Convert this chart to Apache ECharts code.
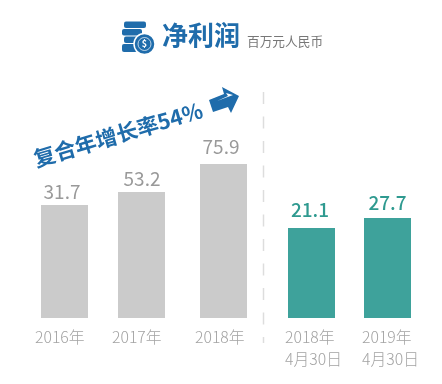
<!DOCTYPE html>
<html><head><meta charset="utf-8">
<style>html,body{margin:0;padding:0;background:#fff}#c{width:442px;height:384px}</style>
<script src="https://cdn.jsdelivr.net/npm/echarts@6/dist/echarts.min.js"></script>
</head><body><div id="c"></div>
<script>
// Data
const categories = ['2016年', '2017年', '2018年', '2018年\n4月30日', '2019年\n4月30日'];
const valueLabels = ['31.7', '53.2', '75.9', '21.1', '27.7'];
// The reference's bars are not to scale with their printed values: drawn levels
const barLevels = [113, 126, 154, 90, 100];

// Layout and style
const barCenters = [64.5, 141.5, 223.5, 311.5, 387.5];
const labelShift = [29.5, 29.5, 28.5, 26.5, 25.5];
const valueOffsetX = [-2.5, 0.5, -2.5, -1.5, 0];
const valueOffsetY = [-1, -1, -1, -1, 2];
const labelGap = [13, 13, 17, 18, 18];
const barColors = ['#cbcbcb', '#cbcbcb', '#cbcbcb', '#3ea29b', '#3ea29b'];
const labelColors = ['#999999', '#999999', '#999999', '#2f9a90', '#2f9a90'];
const BLUE = '#1f6cab';
const FONT = '"Noto Sans CJK SC","Noto Sans",sans-serif';
const BAR_W = 47, AXIS_Y = 318, MAX_LEVEL = 160;

const grid = [], xAxis = [], yAxis = [], series = [];
categories.forEach((cat, i) => {
  grid.push({ left: barCenters[i] - BAR_W / 2, width: BAR_W, top: AXIS_Y - MAX_LEVEL, height: MAX_LEVEL });
  xAxis.push({
    type: 'category', gridIndex: i, data: [cat],
    axisLine: { show: false }, axisTick: { show: false },
    axisLabel: {
      color: '#a3a3a3', fontFamily: FONT, fontSize: 15.8, fontWeight: 300, lineHeight: 22,
      align: 'left', margin: 8, interval: 0, padding: [0, 0, 0, -labelShift[i]]
    }
  });
  yAxis.push({ type: 'value', gridIndex: i, min: 0, max: MAX_LEVEL, show: false });
  series.push({
    type: 'bar', xAxisIndex: i, yAxisIndex: i, barWidth: BAR_W, silent: true, animation: false,
    data: [barLevels[i]],
    itemStyle: { color: barColors[i] },
    label: {
      show: true, position: 'top', distance: labelGap[i] - 10,
      offset: [valueOffsetX[i], valueOffsetY[i]], formatter: () => valueLabels[i],
      color: labelColors[i], fontFamily: FONT, fontSize: 19, fontWeight: i > 2 ? 500 : 400
    }
  });
});

const graphic = [
  // divider
  { type: 'line', shape: { x1: 263.5, y1: 92, x2: 263.5, y2: 343 },
    style: { stroke: '#dddddd', lineWidth: 1.5, lineDash: [12, 12.5] } },
  // coin icon
  ...[[124, 21.5, 22, 6.5], [122, 29, 20, 6.5], [124, 36.5, 15, 6.5], [122, 44, 15, 8]].map(r => ({
    type: 'rect', shape: { x: r[0], y: r[1], width: r[2], height: r[3], r: 2 }, style: { fill: BLUE } })),
  { type: 'circle', shape: { cx: 144.5, cy: 44, r: 10.5 }, style: { fill: BLUE, stroke: '#fff', lineWidth: 1.5 } },
  { type: 'circle', shape: { cx: 144.5, cy: 44, r: 6.5 }, style: { fill: 'none', stroke: '#fff', lineWidth: 0.7 } },
  { type: 'text', x: 144.5, y: 44, style: { text: '$', fill: '#fff', font: 'bold 9px ' + FONT, align: 'center', verticalAlign: 'middle' } },
  // title
  { type: 'text', x: 162, y: 35, style: { text: '净利润', fill: BLUE, font: 'bold 26px ' + FONT, verticalAlign: 'middle' } },
  { type: 'text', x: 247, y: 41, style: { text: '百万元人民币', fill: '#777777', font: '12.7px ' + FONT, verticalAlign: 'middle' } },
  // growth note
  { type: 'text', x: 118, y: 134.5, rotation: 16.5 * Math.PI / 180, originX: 0, originY: 0,
    style: { text: '复合年增长率54%', fill: BLUE, font: 'bold 21.5px ' + FONT, align: 'center', verticalAlign: 'middle' } },
  // arrow
  { type: 'polygon', shape: { points: [[209, 100], [224, 94], [222, 87], [239, 96], [231, 113], [228, 107], [213, 112]] }, style: { fill: BLUE } },
  { type: 'polygon', shape: { points: [[217, 101], [233, 95], [226, 93], [228, 96]] }, style: { fill: '#fff' } }
];

const chart = echarts.init(document.getElementById('c'), null, { renderer: 'canvas' });
chart.setOption({ animation: false, backgroundColor: '#fff', grid, xAxis, yAxis, series, graphic });
</script></body></html>
